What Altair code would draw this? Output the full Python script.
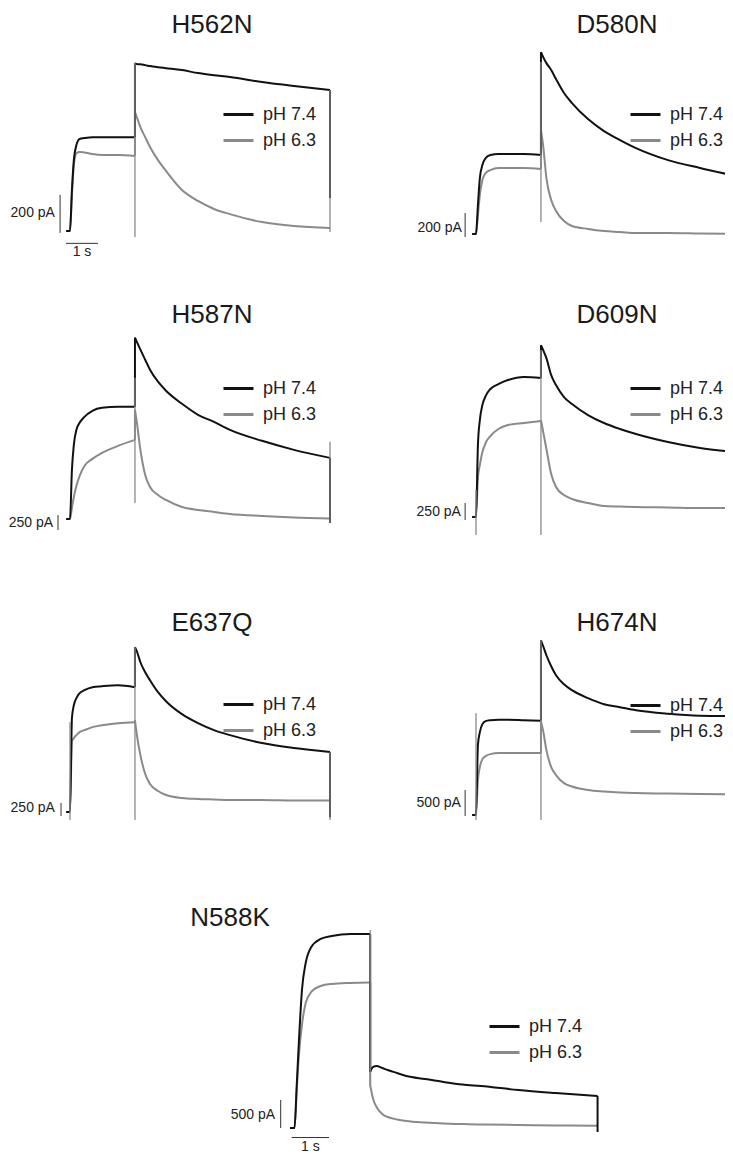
import altair as alt
import pandas as pd

# ---------------- data ----------------
# shared time grids (s): activation phase and tail phase
T_ON = [-0.12, 0.0, 0.06, 0.12, 0.2, 0.3, 0.45, 0.7, 1.0, 1.5, 2.03]
T_TAIL = [2.03, 2.1, 2.2, 2.35, 2.5, 2.75, 3.0, 3.5, 4.0, 4.5, 5.0, 6.0, 7.0, 8.125]
T_STEP = 2.03
T_END = 8.125
PH = ["pH 7.4", "pH 6.3"]

# currents (pA)
H562N_74_on = [0, 0, 216, 373, 452, 484, 489, 494, 494, 494, 494]
H562N_74_tail = [884, 878, 878, 873, 868, 862, 857, 847, 831, 820, 810, 784, 763, 742]
H562N_63_on = [0, 0, 189, 347, 410, 416, 413, 405, 400, 400, 395]
H562N_63_tail = [626, 594, 547, 494, 442, 373, 316, 216, 158, 116, 89, 47, 26, 16]

D580N_74_on = [0, 0, 242, 466, 575, 633, 658, 666, 666, 666, 658]
D580N_74_tail = [1516, 1474, 1424, 1366, 1291, 1175, 1091, 958, 858, 783, 716, 616, 550, 483]
D580N_63_on = [0, 0, 158, 325, 450, 508, 533, 550, 550, 550, 541]
D580N_63_tail = [866, 733, 466, 283, 192, 108, 67, 42, 25, 17, 8, 8, 4, 0]

H587N_74_on = [0, 0, 818, 1236, 1486, 1603, 1703, 1804, 1854, 1870, 1870]
H587N_74_tail = [3023, 2939, 2822, 2655, 2488, 2288, 2138, 1920, 1737, 1620, 1486, 1303, 1152, 1019]
H587N_63_on = [0, 0, 184, 367, 551, 718, 885, 1002, 1102, 1219, 1319]
H587N_63_tail = [1820, 1570, 1152, 735, 534, 401, 317, 200, 150, 117, 84, 50, 25, 8]

D609N_74_on = [0, 0, 1058, 1426, 1646, 1779, 1882, 1955, 2014, 2058, 2043]
D609N_74_tail = [2528, 2455, 2337, 2087, 1940, 1764, 1661, 1499, 1382, 1294, 1220, 1102, 1014, 955]
D609N_63_on = [0, 0, 573, 764, 955, 1088, 1191, 1294, 1352, 1382, 1411]
D609N_63_tail = [1426, 1250, 1000, 632, 441, 323, 265, 206, 162, 154, 147, 140, 132, 132]

E637Q_74_on = [0, 0, 1805, 2054, 2189, 2285, 2342, 2400, 2419, 2438, 2400]
E637Q_74_tail = [3168, 3072, 2880, 2688, 2534, 2304, 2131, 1882, 1709, 1574, 1478, 1325, 1229, 1152]
E637Q_63_on = [0, 0, 1363, 1421, 1478, 1536, 1574, 1632, 1670, 1709, 1728]
E637Q_63_tail = [1766, 1440, 1094, 730, 538, 403, 326, 269, 250, 240, 230, 230, 221, 221]

H674N_74_on = [0, 0, 1344, 1594, 1747, 1805, 1824, 1834, 1834, 1824, 1814]
H674N_74_tail = [3360, 3245, 3072, 2861, 2688, 2515, 2400, 2246, 2131, 2074, 2016, 1949, 1910, 1901]
H674N_63_on = [0, 0, 672, 922, 1075, 1133, 1171, 1190, 1190, 1190, 1190]
H674N_63_tail = [1805, 1613, 1248, 922, 768, 614, 547, 480, 451, 432, 422, 413, 403, 397]

N588K_74_on = [0, 0, 768, 1572, 2465, 2947, 3233, 3376, 3429, 3465, 3465]
N588K_74_tail = [1000, 1089, 1107, 1072, 1036, 982, 929, 875, 822, 777, 750, 679, 625, 572]
N588K_63_on = [0, 0, 679, 1304, 1840, 2233, 2429, 2536, 2572, 2590, 2599]
N588K_63_tail = [768, 536, 375, 250, 196, 152, 125, 98, 80, 71, 63, 54, 45, 41]

# final value of the pH 7.4 trace after the end of the tail (None = not visible)
END_74 = {"H562N": 174, "D580N": None, "H587N": -67, "D609N": None,
          "E637Q": -100, "H674N": None, "N588K": -71}

# capacitive artefacts (vertical grey transients): (time, top pA, bottom pA)
ARTEFACTS = {
    "H562N": [(T_STEP, 884, -32), (T_END, 742, -5)],
    "D580N": [(T_STEP, 1433, 100)],
    "H587N": [(T_STEP, 2355, 267), (T_END, 1286, -67)],
    "D609N": [(0.0, 397, -265), (T_STEP, 2455, -265)],
    "E637Q": [(0.0, 1728, -154), (T_STEP, 3168, -154), (T_END, 1152, -154)],
    "H674N": [(0.0, 1958, -96), (T_STEP, 3360, -96)],
    "N588K": [(T_STEP, 3536, 732)],
}

TRACES = {
    "H562N": (H562N_74_on, H562N_74_tail, H562N_63_on, H562N_63_tail),
    "D580N": (D580N_74_on, D580N_74_tail, D580N_63_on, D580N_63_tail),
    "H587N": (H587N_74_on, H587N_74_tail, H587N_63_on, H587N_63_tail),
    "D609N": (D609N_74_on, D609N_74_tail, D609N_63_on, D609N_63_tail),
    "E637Q": (E637Q_74_on, E637Q_74_tail, E637Q_63_on, E637Q_63_tail),
    "H674N": (H674N_74_on, H674N_74_tail, H674N_63_on, H674N_63_tail),
    "N588K": (N588K_74_on, N588K_74_tail, N588K_63_on, N588K_63_tail),
}

# scale bars (pA)
BAR_PA = {"H562N": 200, "D580N": 200, "H587N": 250, "D609N": 250,
          "E637Q": 250, "H674N": 500, "N588K": 500}

# ---------------- layout (page pixels) ----------------
LAYOUT = {
    "H562N": dict(x0=8, y0=8, w=358, h=290, onset=70, pps=32, yb=231, k=200 / 38,
                  title=(212, 24.5), legend=(222, 113)),
    "D580N": dict(x0=366, y0=8, w=359, h=290, onset=476, pps=32, yb=234, k=200 / 24,
                  title=(617, 24.5), legend=(629, 113)),
    "H587N": dict(x0=8, y0=298, w=358, h=292, onset=70, pps=32, yb=519, k=250 / 15,
                  title=(212, 315), legend=(222, 387)),
    "D609N": dict(x0=366, y0=298, w=359, h=292, onset=476, pps=32, yb=517, k=250 / 17,
                  title=(617, 315), legend=(629, 387)),
    "E637Q": dict(x0=8, y0=590, w=358, h=248, onset=70, pps=32, yb=812, k=250 / 13,
                  title=(212, 623), legend=(222, 703)),
    "H674N": dict(x0=366, y0=590, w=359, h=248, onset=476, pps=32, yb=815, k=500 / 26,
                  title=(617, 622.5), legend=(629, 704)),
    "N588K": dict(x0=8, y0=838, w=717, h=308, onset=294.5, pps=37.3, yb=1128, k=500 / 28,
                  title=(230, 918), legend=(488, 1025)),
}
# scale bar placement in data units
BARPOS = {
    "H562N": dict(vt=-0.31, vI=-10, lt=-0.47, lI=95, ht=-0.125, hI=-65, st=0.375, sI=-113, sb="middle"),
    "D580N": dict(vt=-0.34, vI=-25, lt=-0.44, lI=50),
    "H587N": dict(vt=-0.375, vI=-184, lt=-0.53, lI=-67),
    "D609N": dict(vt=-0.34, vI=-44, lt=-0.47, lI=74),
    "E637Q": dict(vt=-0.28, vI=-77, lt=-0.47, lI=77),
    "H674N": dict(vt=-0.34, vI=-19, lt=-0.47, lI=230),
    "N588K": dict(vt=-0.37, vI=0, lt=-0.52, lI=232, ht=-0.075, hI=-170, st=0.425, sI=-462, sb="bottom"),
}

BLACK = "#111111"
GREY = "#8a8a8a"
FONT = "Liberation Sans"


def panel(name):
    L = LAYOUT[name]
    xdom = [(L["x0"] - L["onset"]) / L["pps"], (L["x0"] + L["w"] - L["onset"]) / L["pps"]]
    ydom = [(L["yb"] - (L["y0"] + L["h"])) * L["k"], (L["yb"] - L["y0"]) * L["k"]]
    xs = alt.Scale(domain=xdom, nice=False, zero=False)
    ys = alt.Scale(domain=ydom, nice=False, zero=False)

    on74, tail74, on63, tail63 = TRACES[name]
    rows, jumps = [], []
    for ph, on, tail, end in (("pH 6.3", on63, tail63, None),
                              ("pH 7.4", on74, tail74, END_74[name])):
        for seg, ts, vals in (("on", T_ON, on), ("tail", T_TAIL, tail)):
            for i, (t, v) in enumerate(zip(ts, vals)):
                rows.append({"ph": ph, "seg": ph + seg, "i": i, "t": t, "I": v})
        jumps.append({"ph": ph, "t": T_STEP, "I1": on[-1], "I2": tail[0]})
        if end is not None:
            jumps.append({"ph": ph, "t": T_END, "I1": tail[-1], "I2": end})
    df = pd.DataFrame(rows)
    jdf = pd.DataFrame(jumps)

    lx, ly = L["legend"]
    lines = alt.Chart(df).mark_line(strokeWidth=2, clip=True, interpolate="monotone").encode(
        x=alt.X("t:Q", scale=xs, axis=None),
        y=alt.Y("I:Q", scale=ys, axis=None),
        color=alt.Color(
            "ph:N",
            scale=alt.Scale(domain=PH, range=[BLACK, GREY]),
            legend=alt.Legend(
                title=None, orient="none", legendX=lx - L["x0"], legendY=ly - 15 - L["y0"],
                symbolType="stroke", symbolSize=900, symbolStrokeWidth=3,
                labelFontSize=18, labelFont=FONT, labelColor="#222222",
                labelOffset=8, rowPadding=-8, padding=0,
            ),
        ),
        detail="seg:N",
        order=alt.Order("i:Q"),
    )

    jump_layers = []
    for ph, col in (("pH 6.3", GREY), ("pH 7.4", BLACK)):
        jump_layers.append(
            alt.Chart(jdf[jdf["ph"] == ph]).mark_rule(color=col, strokeWidth=2).encode(
                x=alt.X("t:Q", scale=xs, axis=None),
                y=alt.Y("I1:Q", scale=ys, axis=None),
                y2="I2:Q",
            )
        )

    art = pd.DataFrame(ARTEFACTS[name], columns=["t", "I1", "I2"])
    arts = alt.Chart(art).mark_rule(color=GREY, strokeWidth=1.3).encode(
        x=alt.X("t:Q", scale=xs, axis=None),
        y=alt.Y("I1:Q", scale=ys, axis=None),
        y2="I2:Q",
    )

    B = BARPOS[name]
    vb = pd.DataFrame({"t": [B["vt"]], "I1": [B["vI"]], "I2": [B["vI"] + BAR_PA[name]]})
    vbar = alt.Chart(vb).mark_rule(color="#333333", strokeWidth=1).encode(
        x=alt.X("t:Q", scale=xs, axis=None),
        y=alt.Y("I1:Q", scale=ys, axis=None),
        y2="I2:Q",
    )
    vl = pd.DataFrame({"t": [B["lt"]], "I": [B["lI"]], "txt": [f"{BAR_PA[name]} pA"]})
    vlab = alt.Chart(vl).mark_text(align="right", baseline="middle", fontSize=14,
                                   font=FONT, color="#222222").encode(
        x=alt.X("t:Q", scale=xs, axis=None),
        y=alt.Y("I:Q", scale=ys, axis=None),
        text="txt:N",
    )
    layers = [lines] + jump_layers + [arts, vbar, vlab]

    if "ht" in B:
        hb = pd.DataFrame({"t1": [B["ht"]], "t2": [B["ht"] + 1.0], "I": [B["hI"]]})
        hbar = alt.Chart(hb).mark_rule(color="#333333", strokeWidth=1).encode(
            x=alt.X("t1:Q", scale=xs, axis=None),
            x2="t2:Q",
            y=alt.Y("I:Q", scale=ys, axis=None),
        )
        hl = pd.DataFrame({"t": [B["st"]], "I": [B["sI"]], "txt": ["1 s"]})
        hlab = alt.Chart(hl).mark_text(align="center", baseline=B["sb"], fontSize=14,
                                       font=FONT, color="#222222").encode(
            x=alt.X("t:Q", scale=xs, axis=None),
            y=alt.Y("I:Q", scale=ys, axis=None),
            text="txt:N",
        )
        layers += [hbar, hlab]

    tx, ty = L["title"]
    title = alt.Chart(pd.DataFrame({"name": [name]})).mark_text(
        align="center", baseline="middle", fontSize=26, font=FONT, color="#1a1a1a"
    ).encode(x=alt.value(tx - L["x0"]), y=alt.value(ty - L["y0"]), text="name:N")
    layers.append(title)

    return alt.layer(*layers).properties(width=L["w"], height=L["h"])


def row(a, b):
    return alt.hconcat(panel(a), panel(b), spacing=0).resolve_scale(
        color="independent").resolve_legend(color="independent")


chart = alt.vconcat(
    row("H562N", "D580N"), row("H587N", "D609N"), row("E637Q", "H674N"), panel("N588K"),
    spacing=0,
).resolve_scale(color="independent").resolve_legend(color="independent").properties(
    padding=0, background="white").configure_view(stroke=None)

chart.save("out.html", embed_options={"renderer": "svg", "actions": False})
